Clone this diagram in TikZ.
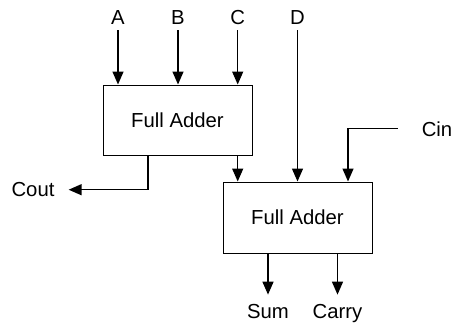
\documentclass[tikz,border=0pt]{standalone}
\usepackage{fontspec}
\setmainfont{Liberation Sans}
\usetikzlibrary{arrows.meta}
\begin{document}
\begin{tikzpicture}[x=1pt,y=-1pt,
 lbl/.style={font=\fontsize{20.3}{24}\selectfont,inner sep=0pt},
 box/.style={lbl,draw,line width=1pt,minimum width=149pt,minimum height=70pt},
 arr/.style={line width=1.4pt,-{Triangle[length=13pt,width=11pt]}}]
\useasboundingbox (0,0) rectangle (454,322);
\node[box] (fa1) at (177.5,120) {Full Adder};
\node[box,minimum height=71pt] (fa2) at (297.5,217.5) {Full Adder};
\node[lbl,anchor=base] (A) at (118,24) {A};
\node[lbl,anchor=base] (B) at (178,24) {B};
\node[lbl,anchor=base] (C) at (237.7,24) {C};
\node[lbl,anchor=base] (D) at (297.5,24) {D};
\node[lbl,anchor=base] (cin) at (437,136) {Cin};
\node[lbl,anchor=base] (cout) at (33,196.7) {Cout};
\node[lbl,anchor=base] (sum) at (268,318) {Sum};
\node[lbl,anchor=base] (carry) at (337.5,318) {Carry};
\draw[arr] ([yshift=-6pt]A.south) -- (A.south |- fa1.north);
\draw[arr] ([yshift=-6pt]B.south) -- (B.south |- fa1.north);
\draw[arr] ([yshift=-6pt]C.south) -- (C.south |- fa1.north);
\draw[arr] ([yshift=-6pt]D.south) -- (D.south |- fa2.north);
\draw[arr] (C.south |- fa1.south) -- (C.south |- fa2.north);
\draw[arr] ([xshift=-24pt]cin.west) -| ([xshift=50.5pt]fa2.north);
\draw[arr] ([xshift=-29.5pt]fa1.south) |- ([xshift=14pt]cout.east);
\draw[arr] (sum.north |- fa2.south) -- ([yshift=9pt]sum.north);
\draw[arr] (carry.north |- fa2.south) -- ([yshift=9pt]carry.north);
\end{tikzpicture}
\end{document}
